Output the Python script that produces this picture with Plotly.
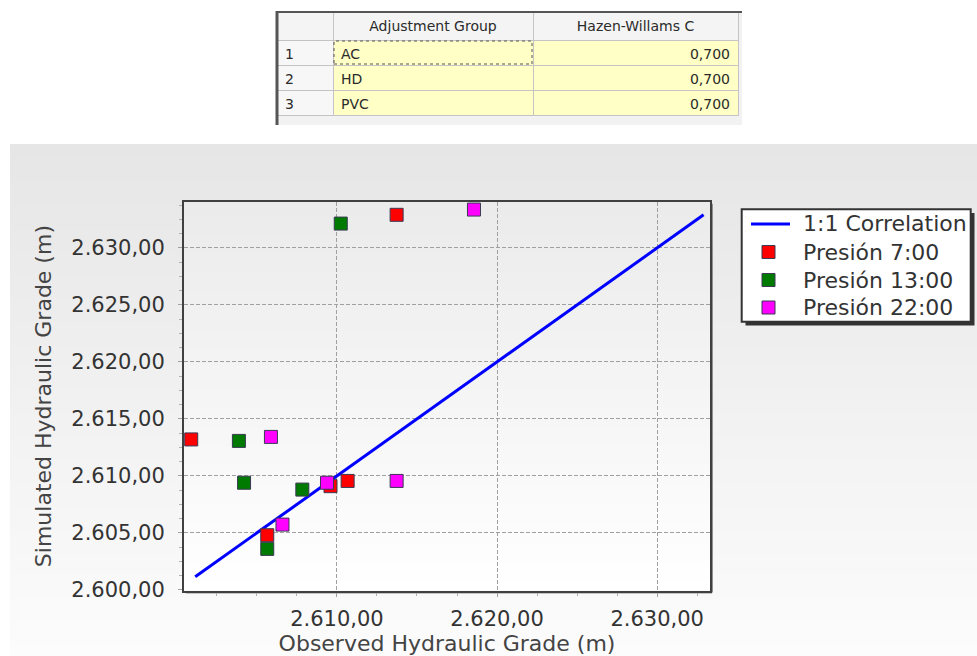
import base64
import struct
import zlib

import plotly.graph_objects as go

# ---- data -------------------------------------------------------------
corr_line = [2601.15, 2632.9]

obs_7 = [2600.9, 2605.65, 2609.6, 2610.67, 2613.73]
sim_7 = [2613.2, 2604.8, 2609.1, 2609.56, 2632.9]

obs_13 = [2603.88, 2604.2, 2605.65, 2607.84, 2610.24]
sim_13 = [2613.07, 2609.4, 2603.6, 2608.8, 2632.13]

obs_22 = [2605.88, 2606.6, 2609.38, 2613.73, 2618.56]
sim_22 = [2613.42, 2605.73, 2609.4, 2609.56, 2633.36]

series_names = ["1:1 Correlation", "Presión 7:00", "Presión 13:00", "Presión 22:00"]
series_colors = ["#0000ff", "#ff0000", "#007a00", "#ff00ff"]

table_header = ["", "Adjustment Group", "Hazen-Willams C"]
row_ids = ["1", "2", "3"]
groups = ["AC", "HD", "PVC"]
hw_c = [0.700, 0.700, 0.700]

W, H = 977, 656


def px(x):
    return x / W


def py(y):
    return (H - y) / H


def gradient_png(top, bottom, n=128):
    raw = b""
    for i in range(n):
        t = i / (n - 1)
        c = bytes(round(a + (b - a) * t) for a, b in zip(top, bottom))
        raw += b"\x00" + c + c
    def chunk(tag, data):
        return (struct.pack(">I", len(data)) + tag + data
                + struct.pack(">I", zlib.crc32(tag + data) & 0xFFFFFFFF))
    png = (b"\x89PNG\r\n\x1a\n"
           + chunk(b"IHDR", struct.pack(">IIBBBBB", 2, n, 8, 2, 0, 0, 0))
           + chunk(b"IDAT", zlib.compress(raw))
           + chunk(b"IEND", b""))
    return "data:image/png;base64," + base64.b64encode(png).decode()


FONT = "DejaVu Sans"
marker_line = dict(color="#3a3a55", width=1)

fig = go.Figure()

fig.add_trace(go.Scatter(
    x=corr_line, y=corr_line, mode="lines", name=series_names[0],
    line=dict(color=series_colors[0], width=3)))
fig.add_trace(go.Scatter(
    x=obs_13, y=sim_13, mode="markers", name=series_names[2],
    marker=dict(symbol="square", size=13, color=series_colors[2], line=marker_line)))
fig.add_trace(go.Scatter(
    x=obs_7, y=sim_7, mode="markers", name=series_names[1],
    marker=dict(symbol="square", size=13, color=series_colors[1], line=marker_line)))
fig.add_trace(go.Scatter(
    x=obs_22, y=sim_22, mode="markers", name=series_names[3],
    marker=dict(symbol="square", size=13, color=series_colors[3], line=marker_line)))

# parameter table above the chart
fig.add_trace(go.Table(
    domain=dict(x=[px(277), px(738)], y=[py(125), py(12)]),
    columnwidth=[56, 200, 205],
    header=dict(values=table_header, height=28,
                fill_color="#f4f4f4", line=dict(color="#c4c4c4", width=1),
                align=["left", "center", "center"],
                font=dict(family=FONT, size=14, color="#2a2a2a")),
    cells=dict(values=[row_ids, groups,
                       [f"{v:.3f}".replace(".", ",") for v in hw_c]],
               height=25,
               fill_color=[["#f7f7f7"] * 3, ["#ffffc6"] * 3, ["#ffffc6"] * 3],
               line=dict(color="#c4c4c4", width=1),
               align=["left", "left", "right"],
               font=dict(family=FONT, size=14, color="#2a2a2a")),
))

x0, x1, y0, y1 = 184, 710, 590.5, 201.7

shapes = [
    # table widget background and frame
    dict(type="rect", xref="paper", yref="paper",
         x0=px(276), x1=px(742), y0=py(125), y1=py(11),
         fillcolor="#f2f2f2", line=dict(width=0), layer="below"),
    dict(type="line", xref="paper", yref="paper",
         x0=px(277), x1=px(277), y0=py(125), y1=py(11),
         line=dict(color="#555555", width=3), layer="above"),
    dict(type="line", xref="paper", yref="paper",
         x0=px(276), x1=px(742), y0=py(12), y1=py(12),
         line=dict(color="#555555", width=2), layer="above"),
    dict(type="rect", xref="paper", yref="paper",
         x0=px(334), x1=px(532), y0=py(64), y1=py(41),
         line=dict(color="#555555", width=1, dash="dot"), layer="above"),
    # plot frame shadow
    dict(type="line", xref="paper", yref="paper",
         x0=px(x1 + 2), x1=px(x1 + 2), y0=py(y0 + 2), y1=py(y1 + 2),
         line=dict(color="#909090", width=2), layer="below"),
    dict(type="line", xref="paper", yref="paper",
         x0=px(x0 + 2), x1=px(x1 + 2), y0=py(y0 + 2), y1=py(y0 + 2),
         line=dict(color="#909090", width=2), layer="below"),
    # legend box with drop shadow
    dict(type="rect", xref="paper", yref="paper",
         x0=px(745.5), x1=px(974.5), y0=py(325.5), y1=py(213),
         fillcolor="#333333", line=dict(width=0), layer="above"),
    dict(type="rect", xref="paper", yref="paper",
         x0=px(741.7), x1=px(970.7), y0=py(321.7), y1=py(209.3),
         fillcolor="#ffffff", line=dict(color="#333333", width=2), layer="above"),
]

annotations = []
row_y = [224, 252, 280, 307.5]
for i, (name, color) in enumerate(zip(series_names, series_colors)):
    yc = row_y[i]
    if i == 0:
        shapes.append(dict(type="line", xref="paper", yref="paper",
                           x0=px(751), x1=px(790), y0=py(yc), y1=py(yc),
                           line=dict(color=color, width=3), layer="above"))
    else:
        shapes.append(dict(type="rect", xref="paper", yref="paper",
                           x0=px(762), x1=px(775), y0=py(yc + 6.5), y1=py(yc - 6.5),
                           fillcolor=color, line=marker_line, layer="above"))
    annotations.append(dict(text=name, xref="paper", yref="paper",
                            x=px(801), y=py(yc), xanchor="left", yanchor="middle",
                            showarrow=False,
                            font=dict(family=FONT, size=22, color="#333333")))

fig.update_layout(
    width=W, height=H,
    margin=dict(l=0, r=0, t=0, b=0, autoexpand=False),
    paper_bgcolor="#ffffff",
    plot_bgcolor="rgba(0,0,0,0)",
    separators=",.",
    font=dict(family=FONT, size=21, color="#333333"),
    showlegend=False,
    xaxis=dict(domain=[px(x0), px(x1)], range=[2600.45, 2633.3],
               automargin=False,
               dtick=10, tick0=2600, tickformat=",.2f",
               showgrid=True, gridcolor="#a0a0a0", griddash="4px,2px", gridwidth=1,
               zeroline=False, showline=True, linecolor="#404040", linewidth=2,
               mirror=True, ticks="outside", ticklen=4, tickcolor="#a0a0a0",
               ticklabelstandoff=4,
               minor=dict(dtick=2.5, ticks="outside", ticklen=3,
                          tickcolor="#b0b0b0", showgrid=False),
               tickfont=dict(size=21, color="#333333"),
               title=dict(text="Observed Hydraulic Grade (m)", standoff=1,
                          font=dict(size=22, color="#444444"))),
    yaxis=dict(domain=[py(y0), py(y1)], range=[2599.95, 2634.05],
               automargin=False,
               dtick=5, tick0=2600, tickformat=",.2f",
               showgrid=True, gridcolor="#a0a0a0", griddash="4px,2px", gridwidth=1,
               zeroline=False, showline=True, linecolor="#404040", linewidth=2,
               mirror=True, ticks="outside", ticklen=4, tickcolor="#a0a0a0",
               ticklabelstandoff=9,
               minor=dict(dtick=1.25, ticks="outside", ticklen=3,
                          tickcolor="#b0b0b0", showgrid=False),
               tickfont=dict(size=21, color="#333333"),
               title=dict(text="Simulated Hydraulic Grade (m)", standoff=14,
                          font=dict(size=22, color="#444444"))),
    images=[
        dict(source=gradient_png((230, 230, 230), (252, 252, 252)),
             xref="paper", yref="paper", x=px(10), y=py(144),
             sizex=px(W - 10), sizey=(H - 144) / H,
             xanchor="left", yanchor="top", sizing="stretch", layer="below"),
        dict(source=gradient_png((235, 235, 235), (255, 255, 255)),
             xref="paper", yref="paper", x=px(x0), y=py(y1),
             sizex=px(x1 - x0), sizey=(y0 - y1) / H,
             xanchor="left", yanchor="top", sizing="stretch", layer="below"),
    ],
    shapes=shapes,
    annotations=annotations,
)

fig.write_html("out.html")
